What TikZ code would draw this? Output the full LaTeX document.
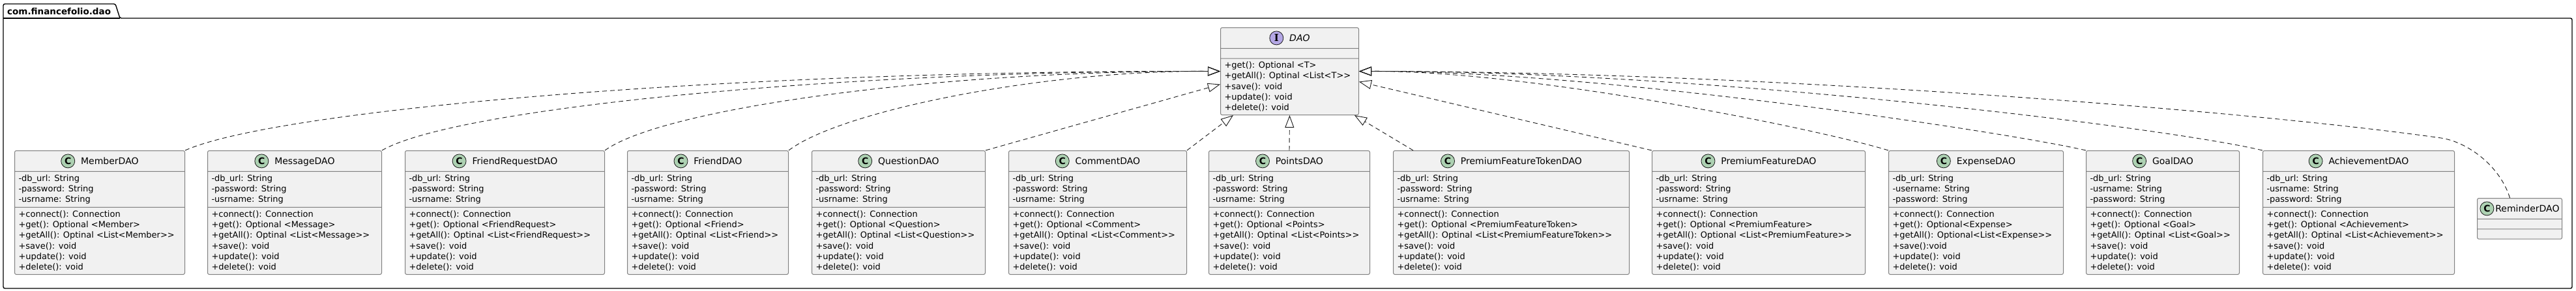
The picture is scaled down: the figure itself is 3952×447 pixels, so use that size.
\documentclass[tikz,border=0pt]{standalone}
\usepackage{fontspec}
\setmainfont{DejaVu Sans}
\newfontfamily\iconserif{DejaVu Serif}
\usetikzlibrary{arrows.meta,shapes.multipart}
\definecolor{umlfill}{HTML}{F1F1F1}
\definecolor{umlclass}{HTML}{ADD1B2}
\definecolor{umliface}{HTML}{B4A7E5}
\definecolor{umlline}{HTML}{181818}

% circled stereotype letter in a class header
\newcommand{\umlicon}[3]{\tikz[baseline=(ic.base)]\node[circle, draw=umlline, line width=0.8pt,
  fill=#1, inner sep=0pt, minimum size=21pt, text width=, align=center, font=#2] (ic) {#3};}
\newcommand{\classname}[1]{{\fontsize{14}{16.3}\selectfont #1}}
\newcommand{\stdattrs}{-db\_url: String\\-password: String\\-usrname: String}
\newcommand{\stdmethods}[2]{+connect(): Connection\\+get(): Optional <#1>\\+getAll(): #2 <List<#1>{}>\\+save(): void\\+update(): void\\+delete(): void}

\begin{document}
\begin{tikzpicture}[
    x=1pt, y=-1pt,
    classbox/.style={rectangle split, rectangle split parts=3,
                     rectangle split part align={center,left,left},
                     rectangle split empty part height=0pt, rectangle split empty part depth=0pt,
                     draw=black!50, line width=1pt, fill=umlfill, rounded corners=2.5pt,
                     anchor=north west, inner xsep=6pt, inner ysep=4.5pt, align=left,
                     font=\fontsize{13}{16.3}\selectfont},
    realize/.style={umlline, line width=0.9pt, dash pattern=on 7pt off 5pt,
                    -{Triangle[open, length=19pt, width=14pt]}},
    pkgframe/.style={black, line width=1.4pt, rounded corners=2.5pt},
    pkglabel/.style={anchor=base west, inner sep=0pt, font=\fontsize{13.5}{16}\selectfont\bfseries}
  ]
    \useasboundingbox (0,0) rectangle (3952,447);

    % package
    \draw[pkgframe] (5,28) -- (5,6) -- (177,6) -- (184,28) -- (3946,28) -- (3946,443) -- (5,443) -- cycle;
    \draw[pkgframe] (5,28) -- (184,28);
    \node[pkglabel] (pkgname) at (11,22) {com.financefolio.dao};

    % interface
    \node[classbox, minimum width=212pt] (dao) at (1872,42)
      {\umlicon{umliface}{\iconserif\fontsize{15}{15}\selectfont\bfseries}{I}\hspace{9pt}\classname{\itshape DAO}\nodepart{two}\nodepart{three}+get(): Optional <T>\\+getAll(): Optinal <List<T>{}>\\+save(): void\\+update(): void\\+delete(): void};

    % classes
    \foreach \nm/\ent/\x/\w in {member/Member/22/261, message/Message/318/267,
        friendreq/FriendRequest/621/306, friend/Friend/962/247, question/Question/1245/266,
        comment/Comment/1547/273, points/Points/1854/247, pftoken/PremiumFeatureToken/2137/362}{
      \node[classbox, minimum width=\w pt] (\nm) at (\x,231)
        {\umlicon{umlclass}{\fontsize{14}{14}\selectfont\bfseries}{C}\hspace{9pt}\classname{\ent DAO}\nodepart{two}\stdattrs\nodepart{three}\stdmethods{\ent}{Optinal}};
    }
    \node[classbox, minimum width=327pt] (pfeature) at (2534,231)
      {\umlicon{umlclass}{\fontsize{14}{14}\selectfont\bfseries}{C}\hspace{9pt}\classname{PremiumFeatureDAO}\nodepart{two}\stdattrs\nodepart{three}\stdmethods{PremiumFeature}{Optional}};
    \node[classbox, minimum width=268pt] (expense) at (2897,231)
      {\umlicon{umlclass}{\fontsize{14}{14}\selectfont\bfseries}{C}\hspace{9pt}\classname{ExpenseDAO}\nodepart{two}-db\_url: String\\-username: String\\-password: String\nodepart{three}+connect(): Connection\\+get(): Optional<Expense>\\+getAll(): Optional<List<Expense>{}>\\+save():void\\+update(): void\\+delete(): void};
    \node[classbox, minimum width=235pt] (goal) at (3200,231)
      {\umlicon{umlclass}{\fontsize{14}{14}\selectfont\bfseries}{C}\hspace{9pt}\classname{GoalDAO}\nodepart{two}-db\_url: String\\-usrname: String\\-password: String\nodepart{three}\stdmethods{Goal}{Optinal}};
    \node[classbox, minimum width=294pt] (achieve) at (3471,231)
      {\umlicon{umlclass}{\fontsize{14}{14}\selectfont\bfseries}{C}\hspace{9pt}\classname{AchievementDAO}\nodepart{two}-db\_url: String\\-usrname: String\\-password: String\nodepart{three}\stdmethods{Achievement}{Optinal}};
    \node[classbox, minimum width=130pt, inner xsep=3pt] (reminder) at (3800,304)
      {\umlicon{umlclass}{\fontsize{14}{14}\selectfont\bfseries}{C}\hspace{2pt}\classname{ReminderDAO}\nodepart{two}\nodepart{three}};

    % realizations
    \draw[realize] (member.north east) .. controls (420,170) and (1100,108) .. (dao.west);
    \draw[realize] (message.north east) .. controls (700,165) and (1300,108) .. (dao.west);
    \draw[realize] (friendreq.north east) .. controls (1020,165) and (1450,108) .. (dao.west);
    \draw[realize] (friend.north east) .. controls (1290,170) and (1600,108) .. (dao.west);
    \draw[realize] (question.north east) -- ([yshift=-20pt]dao.west);
    \draw[realize] (comment.north east) -- ([xshift=20pt]dao.south west);
    \draw[realize] (points.north) -- (dao.south);
    \draw[realize] ([xshift=31pt]pftoken.north west) -- ([xshift=-7pt]dao.south east);
    \draw[realize] (pfeature.north west) -- ([yshift=-16pt]dao.east);
    \draw[realize] (expense.north west) .. controls (2797,200) and (2350,108) .. (dao.east);
    \draw[realize] (goal.north west) .. controls (3080,203) and (2450,108) .. (dao.east);
    \draw[realize] (achieve.north west) .. controls (3321,195) and (2600,108) .. (dao.east);
    \draw[realize] ([xshift=-15pt]reminder.north) .. controls (3835,254) and (3785,218) .. (3745,212)
      .. controls (3450,170) and (2700,110) .. (dao.east);
  \end{tikzpicture}
\end{document}
